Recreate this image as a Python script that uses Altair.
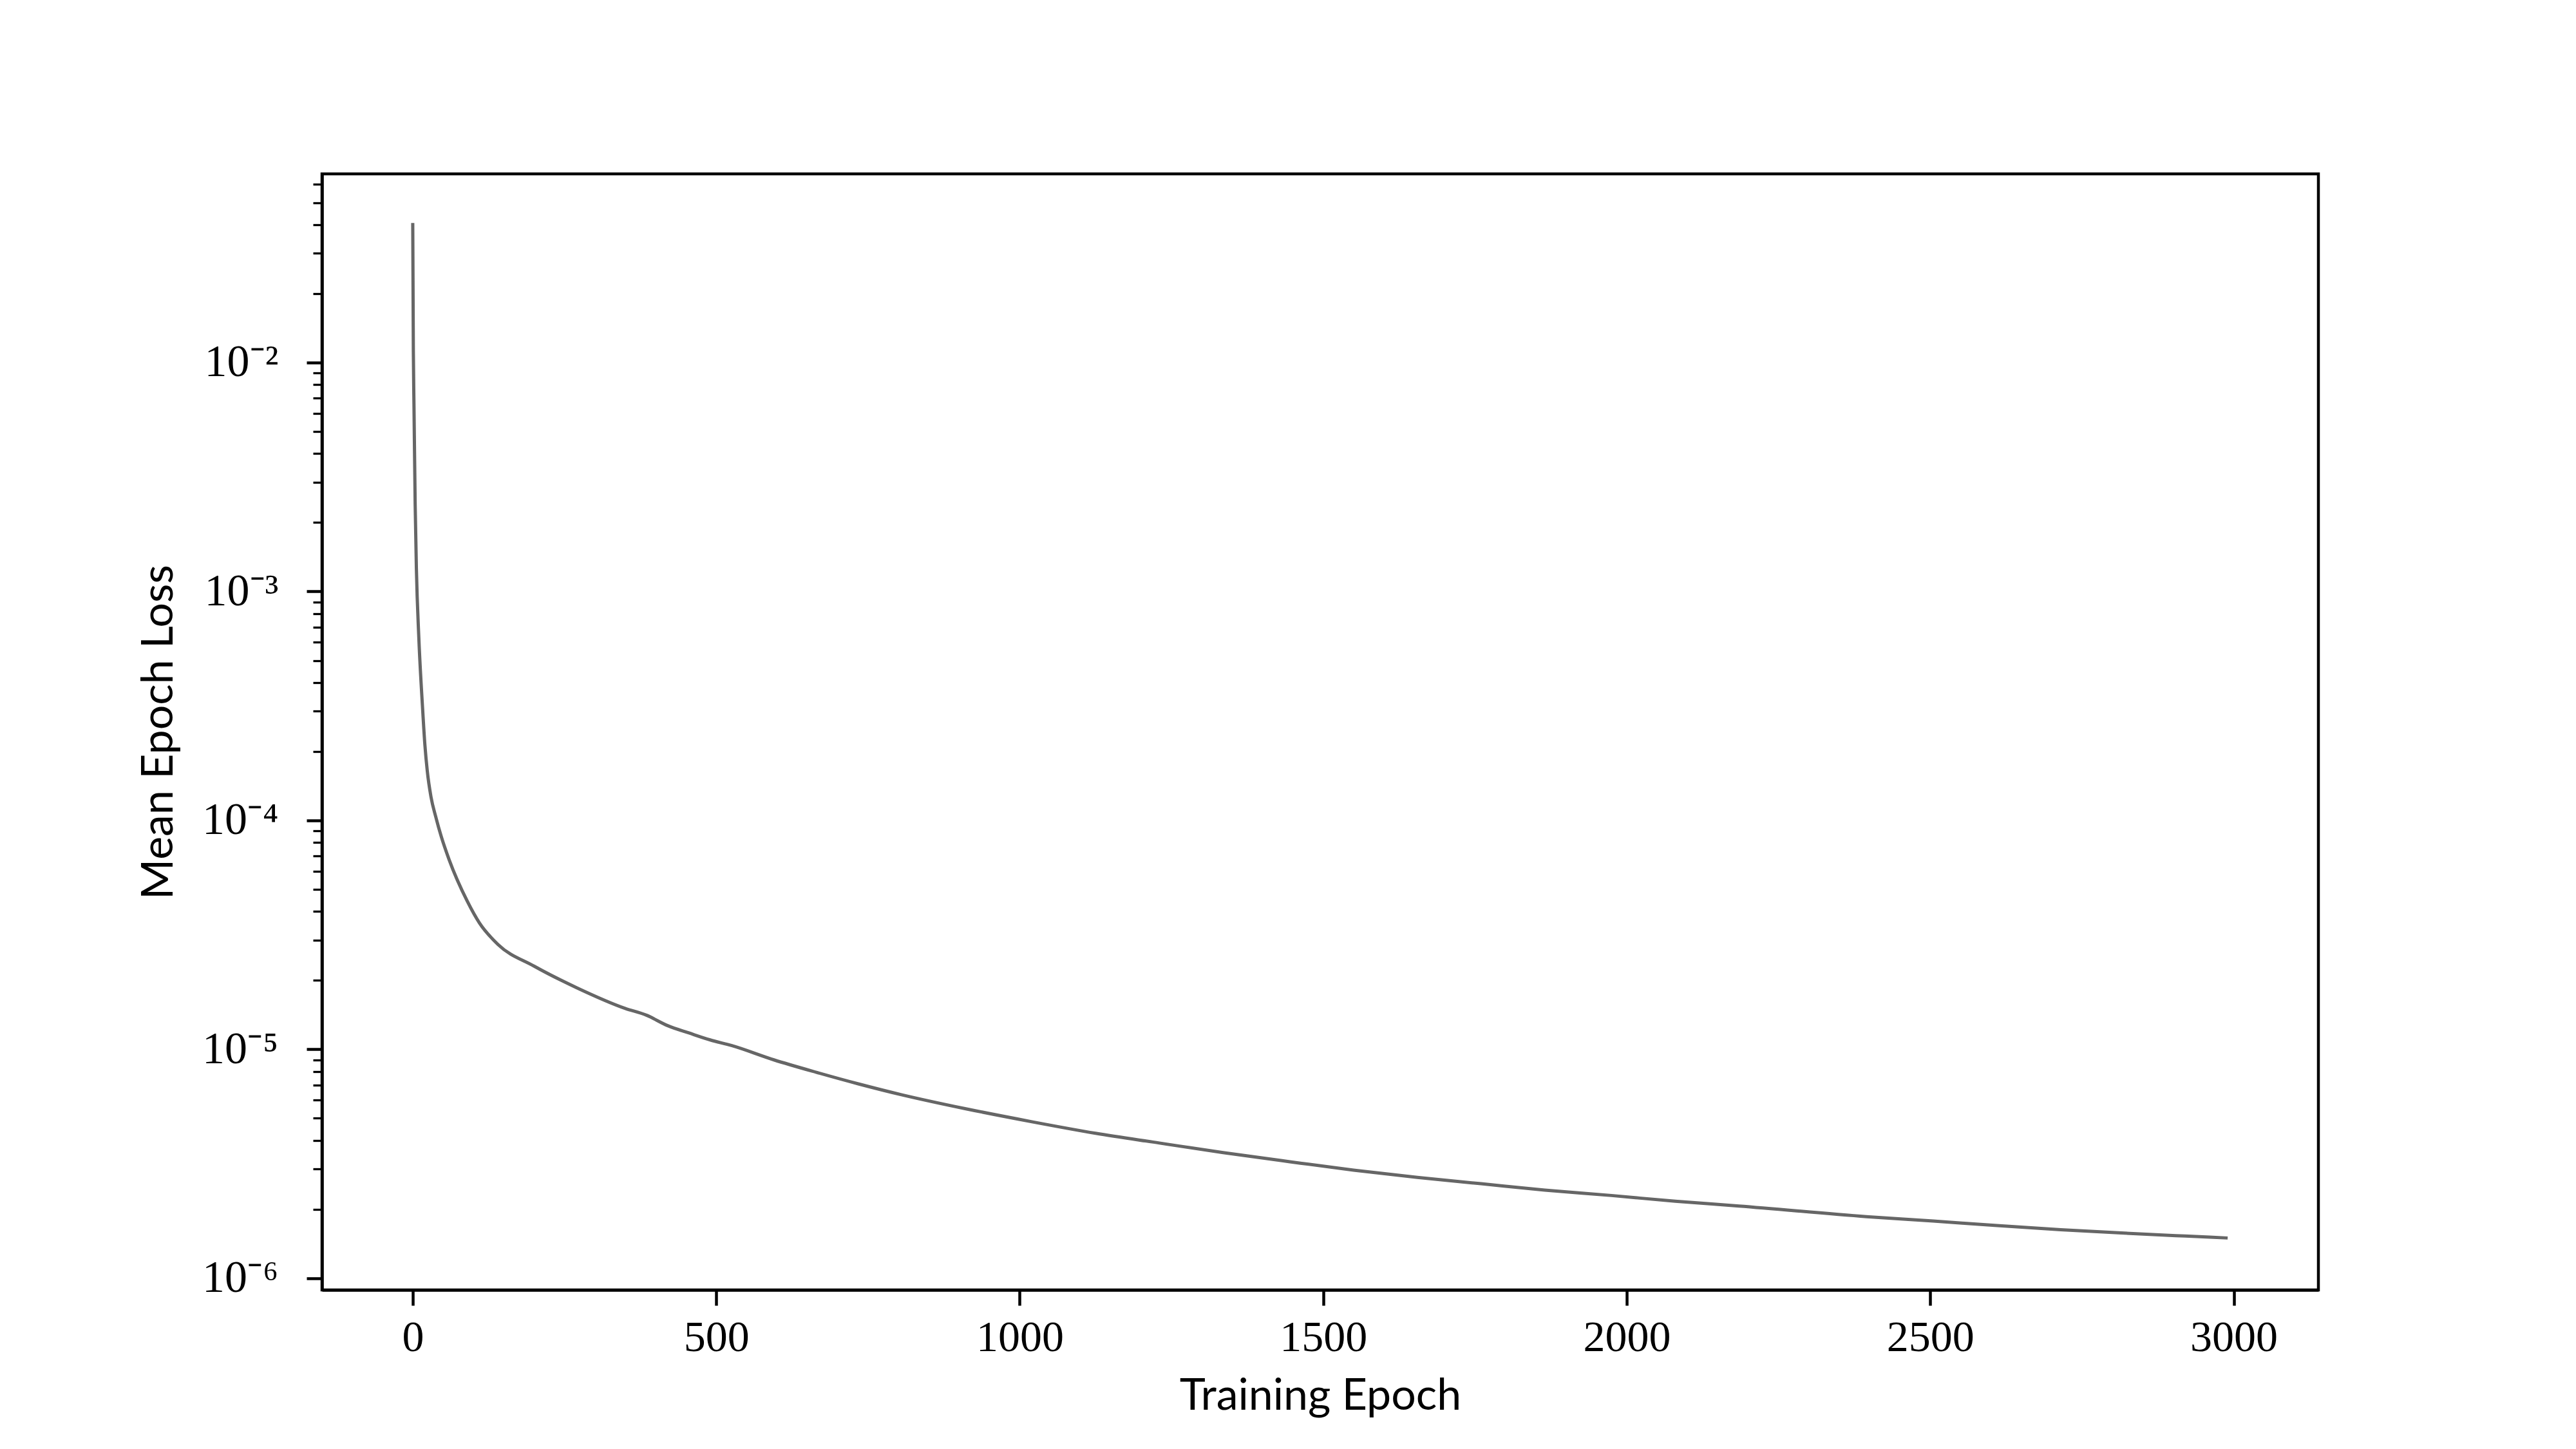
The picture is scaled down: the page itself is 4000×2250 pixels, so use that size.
import math
import altair as alt
import pandas as pd

# ---- data ----
epochs = [0, 1, 2, 4, 6, 10, 16, 20, 24, 30, 38, 47, 60, 90, 110, 140, 200, 270,
          350, 385, 420, 455, 490, 525, 595, 665, 735, 805, 910, 1020, 1125, 1230,
          1335, 1445, 1550, 1655, 1760, 1865, 1975, 2080, 2185, 2395, 2505, 2610,
          2715, 2820, 2920, 2990]
loss = [4.07e-2, 1.12e-2, 6.6e-3, 2.4e-3, 1.26e-3, 6.3e-4, 3.16e-4, 2.14e-4, 1.64e-4,
        1.27e-4, 1.035e-4, 8.5e-5, 6.73e-5, 4.43e-5, 3.56e-5, 2.88e-5, 2.31e-5, 1.86e-5,
        1.51e-5, 1.41e-5, 1.27e-5, 1.18e-5, 1.10e-5, 1.04e-5, 9.0e-6, 7.94e-6, 7.06e-6,
        6.34e-6, 5.51e-6, 4.83e-6, 4.30e-6, 3.90e-6, 3.54e-6, 3.23e-6, 2.97e-6, 2.76e-6,
        2.59e-6, 2.43e-6, 2.30e-6, 2.17e-6, 2.07e-6, 1.86e-6, 1.78e-6, 1.70e-6, 1.63e-6,
        1.575e-6, 1.53e-6, 1.50e-6]

x_ticks = [0, 500, 1000, 1500, 2000, 2500, 3000]
y_major = [1e-6, 1e-5, 1e-4, 1e-3, 1e-2]
y_major_labels = ["10⁻⁶", "10⁻⁵", "10⁻⁴", "10⁻³", "10⁻²"]
y_minor = [m * 10.0 ** k for k in range(-6, -1) for m in range(2, 10)]
y_minor = [v for v in y_minor if v < 0.0667]

x_domain = [-149.5, 3139.5]
y_domain = [8.898e-7, 0.06671]

df = pd.DataFrame({"epoch": epochs, "loss": loss})

# label expression built from the label list
is_major = "abs(log(datum.value)/LN10 - round(log(datum.value)/LN10)) < 0.001"
expo = "round(log(datum.value)/LN10)"
label_expr = "''"
for v, lab in zip(y_major, y_major_labels):
    e = int(round(math.log10(v)))
    label_expr = f"({expo} == {e} && {is_major}) ? '{lab}' : ({label_expr})"

SERIF = "Liberation Serif"
SANS = "Lato"

chart = alt.Chart(df).mark_line(
    color="#666666", strokeWidth=5, interpolate="monotone"
).encode(
    x=alt.X(
        "epoch:Q",
        scale=alt.Scale(domain=x_domain, nice=False, zero=False),
        axis=alt.Axis(
            values=x_ticks,
            format="d",
            title="Training Epoch",
            titleFont=SANS, titleFontSize=68, titleFontWeight="normal", titleColor="black",
            titleX=1550, titleY=165, titleBaseline="middle", titleAlign="center",
            labelFont=SERIF, labelFontSize=68, labelColor="black",
            labelPadding=16, labelFlush=False, labelOverlap=False,
            tickSize=24, tickWidth=4.5, tickColor="black",
            domainColor="black", domainWidth=4.5,
            grid=False,
        ),
    ),
    y=alt.Y(
        "loss:Q",
        scale=alt.Scale(type="log", domain=y_domain, nice=False),
        axis=alt.Axis(
            values=sorted(y_major + y_minor),
            labelExpr=label_expr,
            title="Mean Epoch Loss",
            titleFont=SANS, titleFontSize=68, titleFontWeight="normal", titleColor="black",
            titleX=-253, titleY=866.5, titleBaseline="middle", titleAlign="center",
            titleAngle=270,
            labelFont=SERIF, labelFontSize=70, labelColor="black",
            labelPadding=44, labelFlush=False, labelOverlap=False,
            tickSize={"condition": {"test": is_major, "value": 24}, "value": 14},
            tickWidth={"condition": {"test": is_major, "value": 4.5}, "value": 3.3},
            tickColor="black",
            domainColor="black", domainWidth=4.5,
            grid=False,
        ),
    ),
).properties(
    width=3100,
    height=1733,
    autosize=alt.AutoSizeParams(type="none"),
    padding={"left": 492, "top": 262, "right": 384, "bottom": 239},
    background="white",
).configure_view(
    stroke="black", strokeWidth=4.5
)

chart.save("out.html", embed_options={"renderer": "svg", "actions": False})
